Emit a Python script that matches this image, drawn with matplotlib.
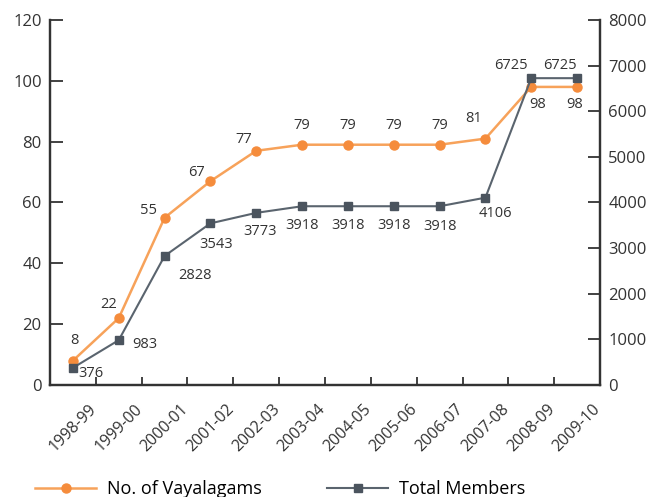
import matplotlib.pyplot as plt
import numpy as np

plt.rcParams['font.family'] = ['Open Sans', 'DejaVu Sans']

# Data
years = ['1998-99', '1999-00', '2000-01', '2001-02', '2002-03', '2003-04',
         '2004-05', '2005-06', '2006-07', '2007-08', '2008-09', '2009-10']
vayalagams = [8, 22, 55, 67, 77, 79, 79, 79, 79, 81, 98, 98]
members = [376, 983, 2828, 3543, 3773, 3918, 3918, 3918, 3918, 4106, 6725, 6725]

# label offsets in pixels (dx, dy)
v_off = [(2, 20), (-10, 14), (-16, 7), (-14, 9), (-13, 11), (0, 19),
         (0, 19), (0, 19), (0, 19), (-12, 20), (6, -18), (-2, -18)]
m_off = [(18, -6), (26, -4), (30, -20), (6, -21), (4, -19), (0, -19),
         (0, -19), (0, -19), (0, -20), (10, -16), (-20, 13), (-17, 13)]

orange = '#F7A25A'
orange_m = '#F58C3C'
grey = '#5A646E'
grey_m = '#4B545E'
axc = '#333333'

fig = plt.figure(figsize=(6.5, 4.97), dpi=100)
ax = fig.add_axes([50/650, 1-385/497, 550/650, 365/497])
ax2 = ax.twinx()

x = np.arange(len(years))
l1, = ax.plot(x, vayalagams, color=orange, lw=1.8, marker='o', ms=6.5,
              mfc=orange_m, mec=orange_m, label='No. of Vayalagams', zorder=3)
l2, = ax2.plot(x, members, color=grey, lw=1.5, marker='s', ms=6,
               mfc=grey_m, mec=grey_m, label='Total Members', zorder=3)

for i, v in enumerate(vayalagams):
    ax.annotate(str(v), (x[i], v), xytext=v_off[i], textcoords='offset pixels',
                ha='center', va='center', fontsize=10.5, color='#333333')
for i, m in enumerate(members):
    ax2.annotate(str(m), (x[i], m), xytext=m_off[i], textcoords='offset pixels',
                 ha='center', va='center', fontsize=10.5, color='#333333')

ax.set_xlim(-0.5, len(years) - 0.5)
ax.set_ylim(0, 120)
ax2.set_ylim(0, 8000)
ax.set_yticks(range(0, 121, 20))
ax2.set_yticks(range(0, 8001, 1000))

ax.set_xticks(x)
ax.set_xticklabels(years, rotation=45, ha='center', va='top')
ax.set_xticks(np.arange(-0.5, len(years), 1), minor=True)
ax.tick_params(axis='x', which='major', length=0, pad=12, labelsize=11.5, colors=axc)
ax.tick_params(axis='x', which='minor', direction='in', length=6, width=1.3, color=axc)
ax.tick_params(axis='y', direction='in', length=9, width=1.3, pad=6,
               labelsize=12, colors=axc)
ax2.tick_params(axis='y', direction='in', length=9, width=1.3, pad=6,
                labelsize=12, colors=axc)

for a in (ax, ax2):
    a.spines['top'].set_visible(False)
    for s in ('left', 'right', 'bottom'):
        a.spines[s].set_linewidth(1.6)
        a.spines[s].set_color(axc)

fig.legend([l1, l2], ['No. of Vayalagams', 'Total Members'], loc='center left',
           bbox_to_anchor=(35/650, 0.016), ncol=2, frameon=False, fontsize=13,
           handlelength=3.4, handletextpad=0.6, columnspacing=3.6,
           borderpad=0, borderaxespad=0)

fig.savefig('out.png', dpi=100)
